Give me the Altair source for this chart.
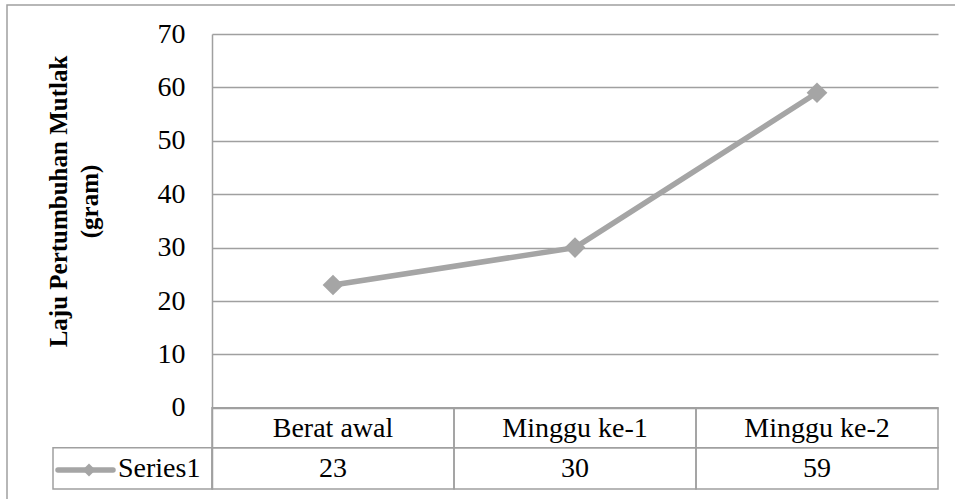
import altair as alt
import pandas as pd

# ---- data ----
categories = ["Berat awal", "Minggu ke-1", "Minggu ke-2"]
values = [23, 30, 59]
series_name = "Series1"
y_ticks = [0, 10, 20, 30, 40, 50, 60, 70]
y_title = ["Laju Pertumbuhan Mutlak", "(gram)"]

# ---- layout / style ----
W, H = 726, 455
Y_MIN, Y_MAX = -15.2, 70
ROW1_TOP = H * Y_MAX / (Y_MAX - Y_MIN)
ROW1_BOT = 413.7
ROW2_BOT = H
FONT = "'Times New Roman', 'Liberation Serif', serif"
FS = 28
GRID = "#a0a0a0"
LINE = "#a5a5a5"

df = pd.DataFrame({"cat": categories, "value": values})
df["pos"] = [i + 0.5 for i in range(len(categories))]
df["left"] = [float(i) for i in range(len(categories))]
df["right"] = [float(i + 1) for i in range(len(categories))]

xscale = alt.Scale(domain=[0, len(categories)], nice=False, zero=False)
yscale = alt.Scale(domain=[Y_MIN, Y_MAX], nice=False, zero=False)
yaxis = alt.Axis(
    values=y_ticks, title=y_title, grid=True, gridColor=GRID, gridWidth=1.5,
    domain=True, domainColor=GRID, domainWidth=1.5, ticks=False, tickSize=0,
    labelPadding=27, labelFont=FONT, labelFontSize=FS, labelColor="black",
    titleFont=FONT, titleFontSize=25, titleFontWeight="bold", titleColor="black",
    titleAngle=270, titleX=-146, titleY=167, titleAlign="center",
    titleBaseline="alphabetic", titleLineHeight=31,
)

base = alt.Chart(df)
xpos = alt.X("pos:Q", scale=xscale, axis=None)
yval = alt.Y("value:Q", scale=yscale, axis=yaxis)

line = base.mark_line(color=LINE, strokeWidth=5.5).encode(x=xpos, y=yval)
points = base.mark_point(shape="diamond", size=430, filled=True, color=LINE, opacity=1).encode(x=xpos, y=yval)

cell1 = base.mark_rect(fill="transparent", stroke=GRID, strokeWidth=1.5).encode(
    x=alt.X("left:Q", scale=xscale, axis=None), x2="right:Q",
    y=alt.value(ROW1_TOP), y2=alt.value(ROW1_BOT))
cell2 = base.mark_rect(fill="transparent", stroke=GRID, strokeWidth=1.5).encode(
    x=alt.X("left:Q", scale=xscale, axis=None), x2="right:Q",
    y=alt.value(ROW1_BOT), y2=alt.value(ROW2_BOT))

head_txt = base.mark_text(font=FONT, fontSize=FS, baseline="alphabetic", align="center", color="black").encode(
    x=xpos, y=alt.value(403), text="cat:N")
val_txt = base.mark_text(font=FONT, fontSize=FS, baseline="alphabetic", align="center", color="black").encode(
    x=xpos, y=alt.value(443), text="value:Q")

leg = alt.Chart(pd.DataFrame({"series": [series_name]}))
leg_cell = leg.mark_rect(fill="transparent", stroke=GRID, strokeWidth=1.5).encode(
    x=alt.value(-159), x2=alt.value(0), y=alt.value(ROW1_BOT), y2=alt.value(ROW2_BOT))
leg_line = leg.mark_rule(color=LINE, strokeWidth=5.5, strokeCap="round").encode(
    x=alt.value(-154), x2=alt.value(-99), y=alt.value(436))
leg_pt = leg.mark_point(shape="diamond", size=170, filled=True, color=LINE, opacity=1).encode(
    x=alt.value(-123), y=alt.value(436))
leg_txt = leg.mark_text(font=FONT, fontSize=FS, baseline="alphabetic", align="left", color="black").encode(
    x=alt.value(-94), y=alt.value(443), text="series:N")

border = leg.mark_rect(fill="transparent", stroke=GRID, strokeWidth=1.5).encode(
    x=alt.value(-205), x2=alt.value(760), y=alt.value(-29), y2=alt.value(480))

chart = alt.layer(
    border, cell1, cell2, leg_cell, head_txt, val_txt, leg_line, leg_pt, leg_txt, line, points
).properties(
    width=W, height=H,
    autosize=alt.AutoSizeParams(type="none"),
    padding={"left": 212, "top": 34, "right": 17, "bottom": 10},
    background="white",
).configure_view(strokeWidth=0)

chart.save("out.html", embed_options={"renderer": "svg", "actions": False})
